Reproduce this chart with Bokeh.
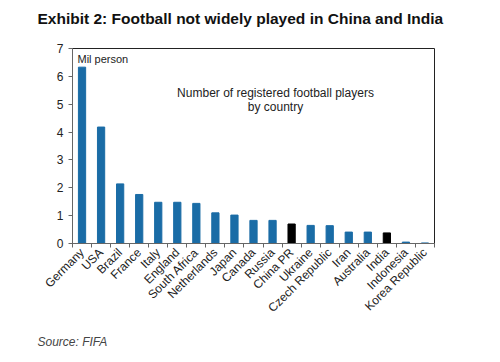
from math import pi
from bokeh.plotting import figure
from bokeh.models import ColumnDataSource, FixedTicker, Label, Range1d, Title
from bokeh.embed import file_html
from bokeh.resources import INLINE

countries = ["Germany", "USA", "Brazil", "France", "Italy", "England", "South Africa",
             "Netherlands", "Japan", "Canada", "Russia", "China PR", "Ukraine",
             "Czech Republic", "Iran", "Australia", "India", "Indonesia", "Korea Republic"]
players = [6.33, 4.18, 2.14, 1.76, 1.48, 1.48, 1.44, 1.10, 1.02, 0.83, 0.83, 0.70, 0.65,
           0.64, 0.41, 0.41, 0.38, 0.05, 0.02]
highlight = ["China PR", "India"]
y_ticks = [0, 1, 2, 3, 4, 5, 6, 7]

FONT = "Liberation Sans"
BLUE = "#1a6ca6"

colors = ["black" if c in highlight else BLUE for c in countries]
xs = [i + 0.5 for i in range(len(countries))]
src = ColumnDataSource(dict(x=xs, top=players, color=colors))

p = figure(width=500, height=362, output_backend="svg", toolbar_location=None,
           x_range=Range1d(0, len(countries)), y_range=Range1d(0, 7),
           min_border_left=72, min_border_right=66, min_border_top=48, min_border_bottom=119)
p.vbar(x="x", top="top", width=0.38, color="color", source=src)

p.xaxis.ticker = FixedTicker(ticks=xs, minor_ticks=list(range(len(countries) + 1)))
p.xaxis.major_label_overrides = {x: c for x, c in zip(xs, countries)}
p.xaxis.major_tick_out = 0
p.xaxis.major_tick_in = 0
p.xaxis.minor_tick_out = 4
p.xaxis.minor_tick_in = 0
p.xaxis.major_label_orientation = pi / 4
p.xaxis.major_label_standoff = 3

p.yaxis.ticker = FixedTicker(ticks=y_ticks)
p.yaxis.major_tick_out = 4
p.yaxis.major_tick_in = 0
p.yaxis.minor_tick_line_color = None

for ax in (p.xaxis[0], p.yaxis[0]):
    ax.axis_line_color = "#666666"
    ax.major_tick_line_color = "#666666"
    ax.major_label_text_font = FONT
    ax.major_label_text_color = "#222222"
p.xaxis.minor_tick_line_color = "#666666"
p.xaxis.major_label_text_font_size = "12px"
p.yaxis.major_label_text_font_size = "12px"

p.grid.visible = False
p.outline_line_color = "#222222"
p.outline_line_width = 1
p.background_fill_color = "white"
p.border_fill_color = "white"

p.title.text = "Exhibit 2: Football not widely played in China and India\n "
p.title.align = "left"
p.title.vertical_align = "top"
p.title.offset = -35
p.title.text_font = FONT
p.title.text_font_size = "15.5px"
p.title.text_font_style = "bold"
p.title.text_color = "#111111"
p.title.standoff = 6

p.add_layout(Title(text="Source: FIFA", align="left", offset=-35, text_font=FONT,
                   text_font_size="12px", text_font_style="italic",
                   text_color="#444444", standoff=21), "below")

p.add_layout(Label(x=5, y=185, x_units="screen", y_units="screen", text="Mil person",
                   text_font=FONT, text_font_size="11px", text_color="#222222",
                   text_baseline="middle"))
p.add_layout(Label(x=203, y=151, x_units="screen", y_units="screen",
                   text="Number of registered football players",
                   text_font=FONT, text_font_size="12px", text_color="#222222",
                   text_baseline="middle", text_align="center"))
p.add_layout(Label(x=203, y=137, x_units="screen", y_units="screen", text="by country",
                   text_font=FONT, text_font_size="12px", text_color="#222222",
                   text_baseline="middle", text_align="center"))

open("out.html", "w").write(file_html(p, INLINE))
